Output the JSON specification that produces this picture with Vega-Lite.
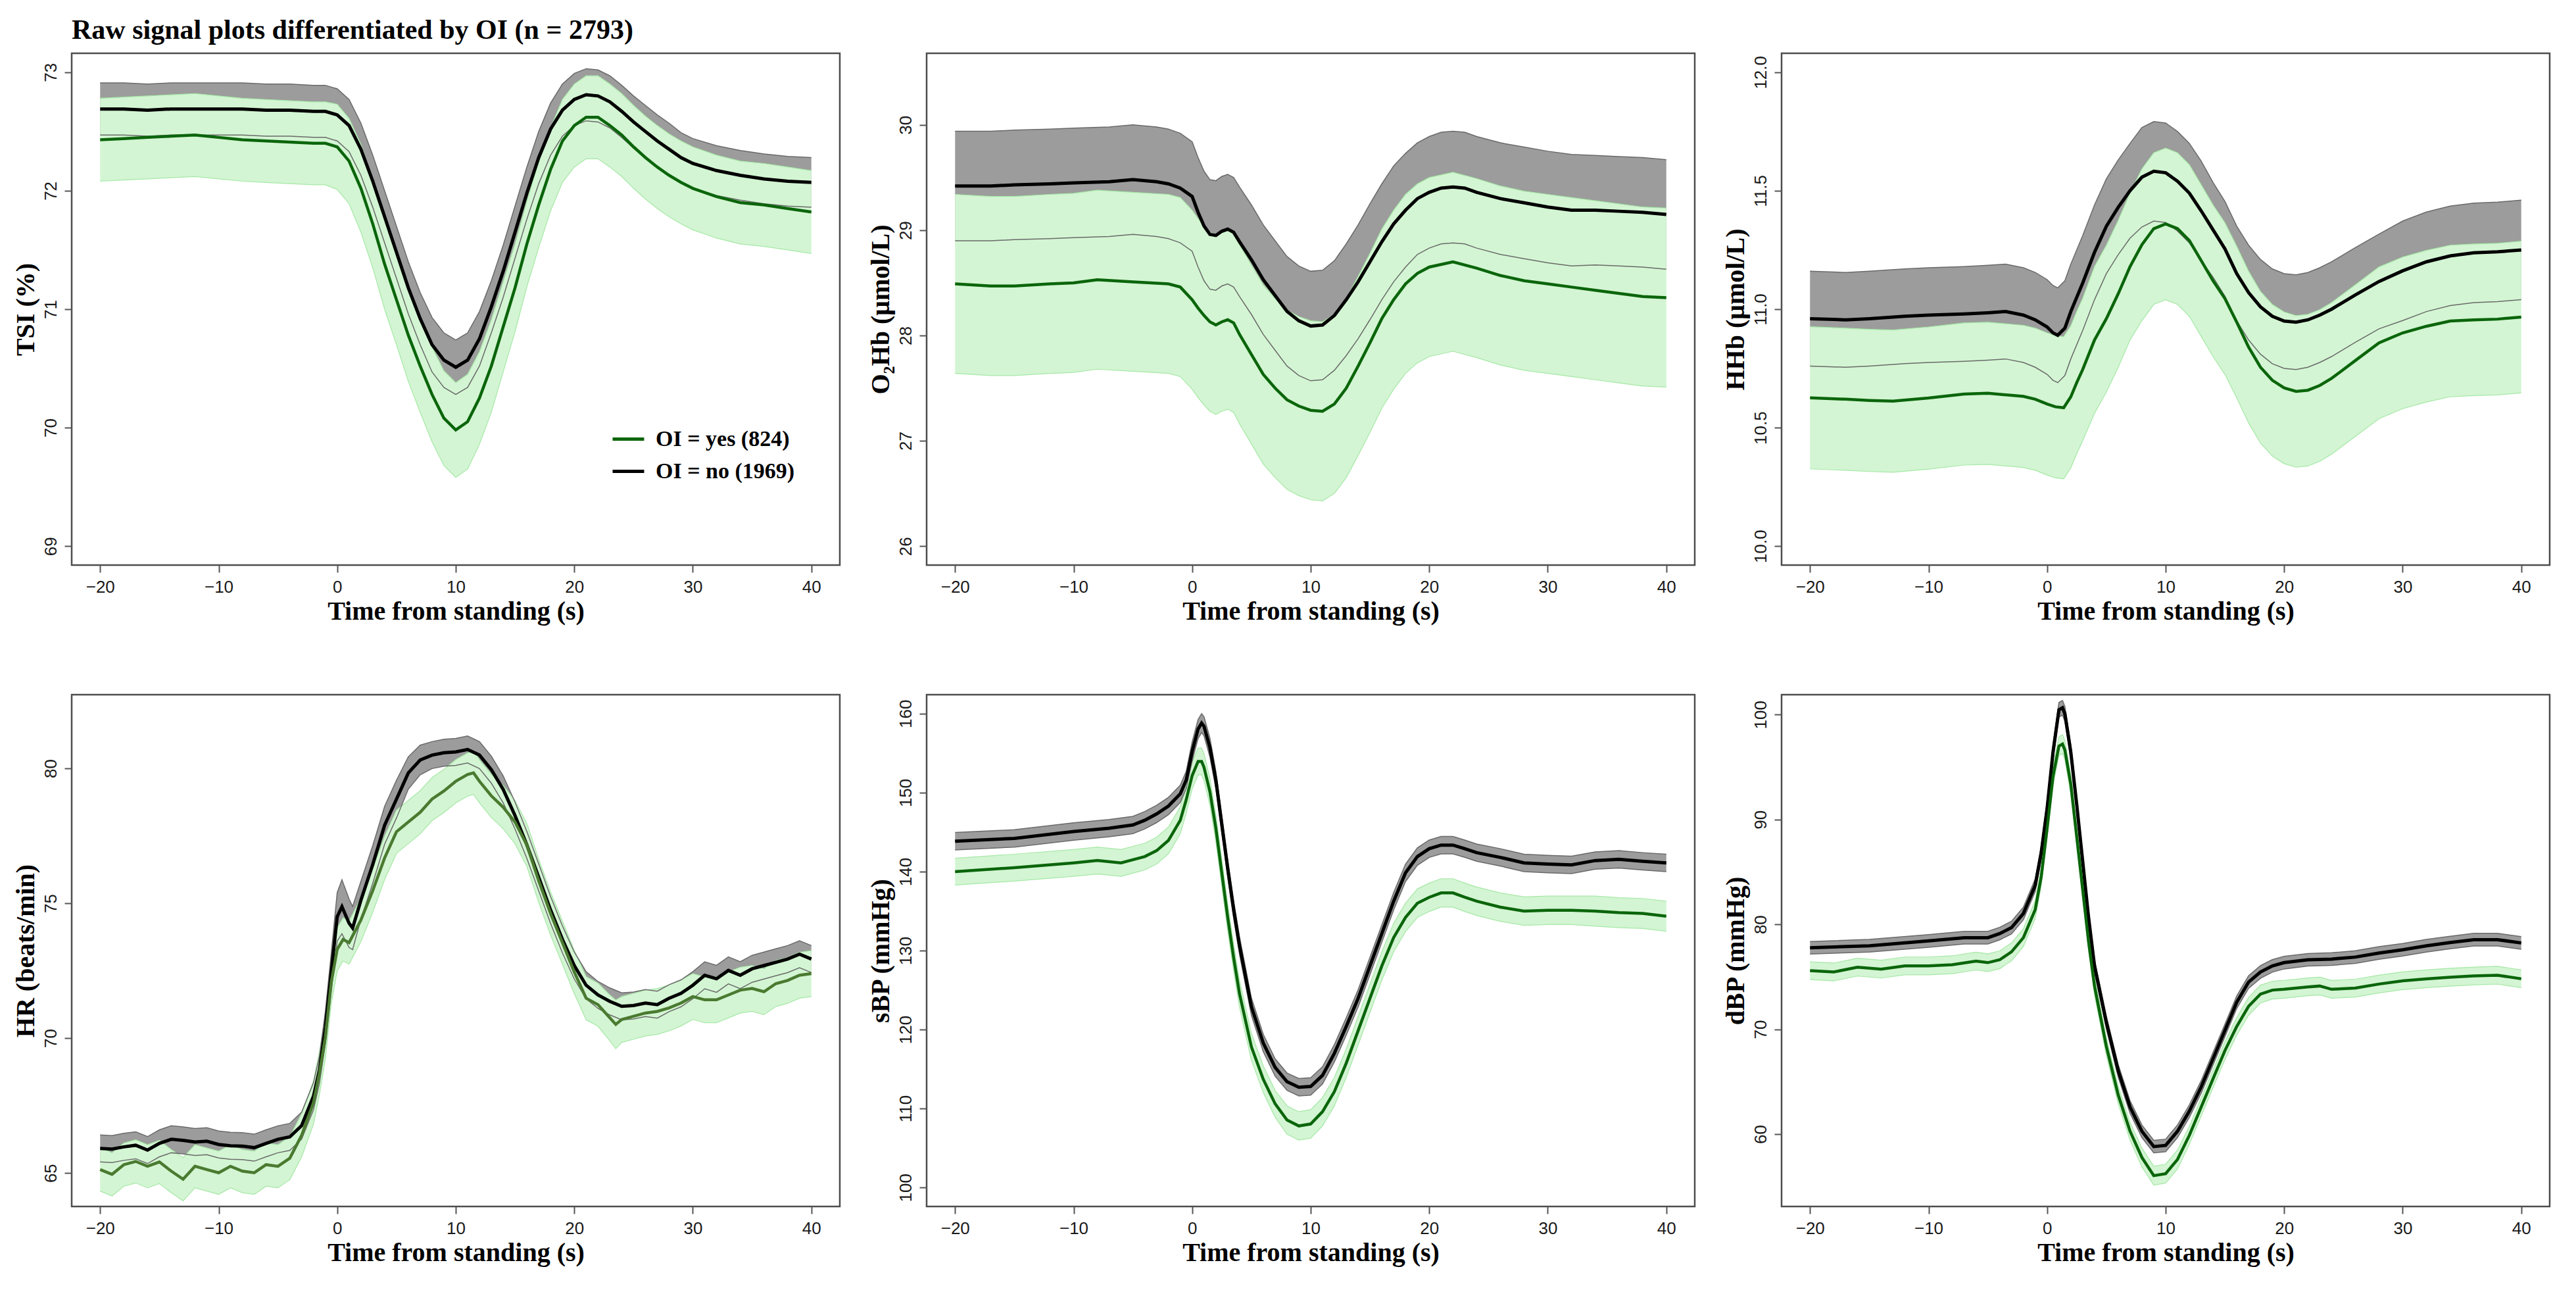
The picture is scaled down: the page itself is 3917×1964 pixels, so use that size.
{
  "$schema": "https://vega.github.io/schema/vega-lite/v6.json",
  "padding": {"left": 17, "top": 24, "right": 20, "bottom": 10},
  "title": {
    "text": "Raw signal plots differentiated by OI (n = 2793)",
    "anchor": "start",
    "frame": "group",
    "font": "Liberation Serif",
    "fontSize": 42,
    "fontWeight": "bold",
    "color": "#000000",
    "offset": 12
  },
  "datasets": {
    "tsi_no": [
      {"t": -20, "m": 72.69, "e": 0.22}, {"t": -18, "m": 72.69, "e": 0.22}, {"t": -16, "m": 72.68, "e": 0.22},
      {"t": -14, "m": 72.69, "e": 0.22}, {"t": -12, "m": 72.69, "e": 0.22}, {"t": -10, "m": 72.69, "e": 0.22},
      {"t": -8, "m": 72.69, "e": 0.22}, {"t": -6, "m": 72.68, "e": 0.22}, {"t": -4, "m": 72.68, "e": 0.22},
      {"t": -2, "m": 72.67, "e": 0.22}, {"t": -1, "m": 72.67, "e": 0.22}, {"t": 0, "m": 72.64, "e": 0.22},
      {"t": 1, "m": 72.55, "e": 0.22}, {"t": 2, "m": 72.35, "e": 0.22}, {"t": 3, "m": 72.08, "e": 0.22},
      {"t": 4, "m": 71.78, "e": 0.22}, {"t": 5, "m": 71.48, "e": 0.22}, {"t": 6, "m": 71.18, "e": 0.22},
      {"t": 7, "m": 70.92, "e": 0.22}, {"t": 8, "m": 70.7, "e": 0.23}, {"t": 9, "m": 70.57, "e": 0.23},
      {"t": 10, "m": 70.51, "e": 0.23}, {"t": 11, "m": 70.57, "e": 0.23}, {"t": 12, "m": 70.75, "e": 0.23},
      {"t": 13, "m": 71.02, "e": 0.22}, {"t": 14, "m": 71.32, "e": 0.22}, {"t": 15, "m": 71.65, "e": 0.22},
      {"t": 16, "m": 71.98, "e": 0.22}, {"t": 17, "m": 72.28, "e": 0.22}, {"t": 18, "m": 72.52, "e": 0.22},
      {"t": 19, "m": 72.68, "e": 0.22}, {"t": 20, "m": 72.77, "e": 0.22}, {"t": 21, "m": 72.81, "e": 0.22},
      {"t": 22, "m": 72.8, "e": 0.22}, {"t": 23, "m": 72.75, "e": 0.22}, {"t": 24, "m": 72.67, "e": 0.22},
      {"t": 25, "m": 72.58, "e": 0.22}, {"t": 26, "m": 72.5, "e": 0.22}, {"t": 27, "m": 72.42, "e": 0.22},
      {"t": 28, "m": 72.35, "e": 0.22}, {"t": 29, "m": 72.28, "e": 0.21}, {"t": 30, "m": 72.23, "e": 0.21},
      {"t": 32, "m": 72.17, "e": 0.21}, {"t": 34, "m": 72.13, "e": 0.21}, {"t": 36, "m": 72.1, "e": 0.21},
      {"t": 38, "m": 72.08, "e": 0.21}, {"t": 40, "m": 72.07, "e": 0.21}
    ],
    "tsi_yes": [
      {"t": -20, "m": 72.43, "e": 0.35}, {"t": -18, "m": 72.44, "e": 0.35}, {"t": -16, "m": 72.45, "e": 0.35},
      {"t": -14, "m": 72.46, "e": 0.35}, {"t": -12, "m": 72.47, "e": 0.35}, {"t": -10, "m": 72.45, "e": 0.35},
      {"t": -8, "m": 72.43, "e": 0.35}, {"t": -6, "m": 72.42, "e": 0.35}, {"t": -4, "m": 72.41, "e": 0.35},
      {"t": -2, "m": 72.4, "e": 0.35}, {"t": -1, "m": 72.4, "e": 0.35}, {"t": 0, "m": 72.37, "e": 0.36},
      {"t": 1, "m": 72.25, "e": 0.36}, {"t": 2, "m": 72.02, "e": 0.37}, {"t": 3, "m": 71.72, "e": 0.37},
      {"t": 4, "m": 71.38, "e": 0.38}, {"t": 5, "m": 71.08, "e": 0.38}, {"t": 6, "m": 70.78, "e": 0.39},
      {"t": 7, "m": 70.52, "e": 0.39}, {"t": 8, "m": 70.28, "e": 0.4}, {"t": 9, "m": 70.08, "e": 0.4},
      {"t": 10, "m": 69.98, "e": 0.4}, {"t": 11, "m": 70.05, "e": 0.4}, {"t": 12, "m": 70.25, "e": 0.39},
      {"t": 13, "m": 70.52, "e": 0.39}, {"t": 14, "m": 70.85, "e": 0.38}, {"t": 15, "m": 71.18, "e": 0.37},
      {"t": 16, "m": 71.55, "e": 0.36}, {"t": 17, "m": 71.88, "e": 0.36}, {"t": 18, "m": 72.18, "e": 0.35},
      {"t": 19, "m": 72.42, "e": 0.35}, {"t": 20, "m": 72.55, "e": 0.35}, {"t": 21, "m": 72.62, "e": 0.35},
      {"t": 22, "m": 72.62, "e": 0.35}, {"t": 23, "m": 72.55, "e": 0.35}, {"t": 24, "m": 72.47, "e": 0.35},
      {"t": 25, "m": 72.37, "e": 0.35}, {"t": 26, "m": 72.28, "e": 0.35}, {"t": 27, "m": 72.2, "e": 0.35},
      {"t": 28, "m": 72.13, "e": 0.35}, {"t": 29, "m": 72.07, "e": 0.35}, {"t": 30, "m": 72.02, "e": 0.35},
      {"t": 32, "m": 71.95, "e": 0.35}, {"t": 34, "m": 71.9, "e": 0.35}, {"t": 36, "m": 71.88, "e": 0.35},
      {"t": 38, "m": 71.85, "e": 0.35}, {"t": 40, "m": 71.82, "e": 0.35}
    ],
    "o2_no": [
      {"t": -20, "m": 29.42, "e": 0.52}, {"t": -17, "m": 29.42, "e": 0.52}, {"t": -15, "m": 29.43, "e": 0.52},
      {"t": -12, "m": 29.44, "e": 0.52}, {"t": -10, "m": 29.45, "e": 0.52}, {"t": -7, "m": 29.46, "e": 0.52},
      {"t": -5, "m": 29.48, "e": 0.52}, {"t": -3, "m": 29.46, "e": 0.52}, {"t": -2, "m": 29.44, "e": 0.52},
      {"t": -1, "m": 29.4, "e": 0.52}, {"t": 0, "m": 29.32, "e": 0.52}, {"t": 0.5, "m": 29.17, "e": 0.52},
      {"t": 1, "m": 29.04, "e": 0.52}, {"t": 1.5, "m": 28.96, "e": 0.52}, {"t": 2, "m": 28.95, "e": 0.52},
      {"t": 2.5, "m": 28.99, "e": 0.52}, {"t": 3, "m": 29.01, "e": 0.52}, {"t": 3.5, "m": 28.98, "e": 0.52},
      {"t": 4, "m": 28.89, "e": 0.52}, {"t": 5, "m": 28.72, "e": 0.52}, {"t": 6, "m": 28.53, "e": 0.52},
      {"t": 7, "m": 28.38, "e": 0.52}, {"t": 8, "m": 28.23, "e": 0.52}, {"t": 9, "m": 28.14, "e": 0.52},
      {"t": 10, "m": 28.09, "e": 0.52}, {"t": 11, "m": 28.1, "e": 0.52}, {"t": 12, "m": 28.19, "e": 0.52},
      {"t": 13, "m": 28.34, "e": 0.53}, {"t": 14, "m": 28.51, "e": 0.54}, {"t": 15, "m": 28.7, "e": 0.55},
      {"t": 16, "m": 28.89, "e": 0.55}, {"t": 17, "m": 29.06, "e": 0.55}, {"t": 18, "m": 29.19, "e": 0.54},
      {"t": 19, "m": 29.3, "e": 0.53}, {"t": 20, "m": 29.36, "e": 0.53}, {"t": 21, "m": 29.4, "e": 0.53},
      {"t": 22, "m": 29.41, "e": 0.53}, {"t": 23, "m": 29.4, "e": 0.53}, {"t": 24, "m": 29.36, "e": 0.53},
      {"t": 26, "m": 29.3, "e": 0.53}, {"t": 28, "m": 29.26, "e": 0.53}, {"t": 30, "m": 29.22, "e": 0.53},
      {"t": 32, "m": 29.19, "e": 0.53}, {"t": 34, "m": 29.19, "e": 0.52}, {"t": 36, "m": 29.18, "e": 0.52},
      {"t": 38, "m": 29.17, "e": 0.52}, {"t": 40, "m": 29.15, "e": 0.52}
    ],
    "o2_yes": [
      {"t": -20, "m": 28.49, "e": 0.85}, {"t": -17, "m": 28.47, "e": 0.85}, {"t": -15, "m": 28.47, "e": 0.85},
      {"t": -12, "m": 28.49, "e": 0.85}, {"t": -10, "m": 28.5, "e": 0.85}, {"t": -8, "m": 28.53, "e": 0.85},
      {"t": -5, "m": 28.51, "e": 0.85}, {"t": -2, "m": 28.49, "e": 0.85}, {"t": -1, "m": 28.46, "e": 0.85},
      {"t": 0, "m": 28.34, "e": 0.85}, {"t": 0.5, "m": 28.26, "e": 0.85}, {"t": 1, "m": 28.19, "e": 0.85},
      {"t": 1.5, "m": 28.13, "e": 0.85}, {"t": 2, "m": 28.1, "e": 0.85}, {"t": 2.5, "m": 28.13, "e": 0.85},
      {"t": 3, "m": 28.15, "e": 0.85}, {"t": 3.5, "m": 28.12, "e": 0.85}, {"t": 4, "m": 28.01, "e": 0.85},
      {"t": 5, "m": 27.82, "e": 0.85}, {"t": 6, "m": 27.63, "e": 0.85}, {"t": 7, "m": 27.5, "e": 0.85},
      {"t": 8, "m": 27.39, "e": 0.85}, {"t": 9, "m": 27.33, "e": 0.85}, {"t": 10, "m": 27.29, "e": 0.85},
      {"t": 11, "m": 27.28, "e": 0.85}, {"t": 12, "m": 27.35, "e": 0.85}, {"t": 13, "m": 27.5, "e": 0.85},
      {"t": 14, "m": 27.71, "e": 0.85}, {"t": 15, "m": 27.93, "e": 0.85}, {"t": 16, "m": 28.16, "e": 0.85},
      {"t": 17, "m": 28.34, "e": 0.85}, {"t": 18, "m": 28.49, "e": 0.85}, {"t": 19, "m": 28.59, "e": 0.85},
      {"t": 20, "m": 28.65, "e": 0.85}, {"t": 22, "m": 28.7, "e": 0.85}, {"t": 24, "m": 28.64, "e": 0.85},
      {"t": 26, "m": 28.57, "e": 0.85}, {"t": 28, "m": 28.52, "e": 0.85}, {"t": 30, "m": 28.49, "e": 0.85},
      {"t": 32, "m": 28.46, "e": 0.85}, {"t": 34, "m": 28.43, "e": 0.85}, {"t": 36, "m": 28.4, "e": 0.85},
      {"t": 38, "m": 28.37, "e": 0.85}, {"t": 40, "m": 28.36, "e": 0.85}
    ],
    "hhb_no": [
      {"t": -20, "m": 10.96, "e": 0.2}, {"t": -17, "m": 10.955, "e": 0.2}, {"t": -15, "m": 10.96, "e": 0.2},
      {"t": -12, "m": 10.97, "e": 0.2}, {"t": -10, "m": 10.975, "e": 0.2}, {"t": -7, "m": 10.98, "e": 0.2},
      {"t": -5, "m": 10.985, "e": 0.2}, {"t": -3.5, "m": 10.99, "e": 0.2}, {"t": -2, "m": 10.975, "e": 0.2},
      {"t": -1, "m": 10.955, "e": 0.2}, {"t": 0, "m": 10.925, "e": 0.2}, {"t": 0.5, "m": 10.9, "e": 0.2},
      {"t": 0.9, "m": 10.89, "e": 0.2}, {"t": 1.5, "m": 10.92, "e": 0.2}, {"t": 2, "m": 10.99, "e": 0.2},
      {"t": 3, "m": 11.11, "e": 0.2}, {"t": 4, "m": 11.24, "e": 0.2}, {"t": 5, "m": 11.35, "e": 0.2},
      {"t": 6, "m": 11.43, "e": 0.2}, {"t": 7, "m": 11.5, "e": 0.2}, {"t": 8, "m": 11.557, "e": 0.21},
      {"t": 9, "m": 11.582, "e": 0.21}, {"t": 10, "m": 11.576, "e": 0.21}, {"t": 11, "m": 11.54, "e": 0.21},
      {"t": 12, "m": 11.49, "e": 0.21}, {"t": 13, "m": 11.415, "e": 0.21}, {"t": 14, "m": 11.335, "e": 0.2},
      {"t": 15, "m": 11.255, "e": 0.2}, {"t": 16, "m": 11.15, "e": 0.2}, {"t": 17, "m": 11.07, "e": 0.2},
      {"t": 18, "m": 11.01, "e": 0.2}, {"t": 19, "m": 10.97, "e": 0.2}, {"t": 20, "m": 10.95, "e": 0.2},
      {"t": 21, "m": 10.945, "e": 0.2}, {"t": 22, "m": 10.955, "e": 0.2}, {"t": 23, "m": 10.975, "e": 0.2},
      {"t": 24, "m": 11.0, "e": 0.2}, {"t": 26, "m": 11.06, "e": 0.2}, {"t": 28, "m": 11.117, "e": 0.2},
      {"t": 30, "m": 11.162, "e": 0.21}, {"t": 32, "m": 11.2, "e": 0.21}, {"t": 34, "m": 11.225, "e": 0.21},
      {"t": 36, "m": 11.238, "e": 0.21}, {"t": 38, "m": 11.242, "e": 0.21}, {"t": 40, "m": 11.25, "e": 0.21}
    ],
    "hhb_yes": [
      {"t": -20, "m": 10.626, "e": 0.3}, {"t": -17, "m": 10.62, "e": 0.3}, {"t": -15, "m": 10.615, "e": 0.3},
      {"t": -13, "m": 10.612, "e": 0.3}, {"t": -10, "m": 10.625, "e": 0.3}, {"t": -7, "m": 10.642, "e": 0.3},
      {"t": -5, "m": 10.645, "e": 0.3}, {"t": -2, "m": 10.632, "e": 0.3}, {"t": -1, "m": 10.62, "e": 0.3},
      {"t": 0, "m": 10.6, "e": 0.3}, {"t": 0.7, "m": 10.588, "e": 0.3}, {"t": 1.4, "m": 10.584, "e": 0.3},
      {"t": 2, "m": 10.63, "e": 0.3}, {"t": 2.5, "m": 10.69, "e": 0.3}, {"t": 3, "m": 10.745, "e": 0.3},
      {"t": 4, "m": 10.87, "e": 0.31}, {"t": 5, "m": 10.96, "e": 0.31}, {"t": 6, "m": 11.065, "e": 0.31},
      {"t": 7, "m": 11.18, "e": 0.31}, {"t": 8, "m": 11.272, "e": 0.32}, {"t": 9, "m": 11.34, "e": 0.32},
      {"t": 10, "m": 11.36, "e": 0.32}, {"t": 11, "m": 11.34, "e": 0.32}, {"t": 12, "m": 11.29, "e": 0.32},
      {"t": 13, "m": 11.205, "e": 0.32}, {"t": 14, "m": 11.12, "e": 0.32}, {"t": 15, "m": 11.045, "e": 0.32},
      {"t": 16, "m": 10.945, "e": 0.32}, {"t": 17, "m": 10.84, "e": 0.32}, {"t": 18, "m": 10.755, "e": 0.32},
      {"t": 19, "m": 10.7, "e": 0.32}, {"t": 20, "m": 10.668, "e": 0.32}, {"t": 21, "m": 10.653, "e": 0.32},
      {"t": 22, "m": 10.658, "e": 0.32}, {"t": 23, "m": 10.678, "e": 0.32}, {"t": 24, "m": 10.708, "e": 0.32},
      {"t": 26, "m": 10.783, "e": 0.32}, {"t": 28, "m": 10.858, "e": 0.32}, {"t": 30, "m": 10.9, "e": 0.32},
      {"t": 32, "m": 10.928, "e": 0.32}, {"t": 34, "m": 10.95, "e": 0.32}, {"t": 36, "m": 10.955, "e": 0.32},
      {"t": 38, "m": 10.958, "e": 0.32}, {"t": 40, "m": 10.967, "e": 0.32}
    ],
    "hr_no": [
      {"t": -20, "m": 65.91, "e": 0.5}, {"t": -19, "m": 65.89, "e": 0.5}, {"t": -18, "m": 65.97, "e": 0.5},
      {"t": -17, "m": 66.03, "e": 0.5}, {"t": -16, "m": 65.85, "e": 0.5}, {"t": -15, "m": 66.1, "e": 0.5},
      {"t": -14, "m": 66.25, "e": 0.5}, {"t": -13, "m": 66.21, "e": 0.5}, {"t": -12, "m": 66.15, "e": 0.5},
      {"t": -11, "m": 66.18, "e": 0.5}, {"t": -10, "m": 66.06, "e": 0.5}, {"t": -9, "m": 66.01, "e": 0.5},
      {"t": -8, "m": 66.0, "e": 0.5}, {"t": -7, "m": 65.94, "e": 0.5}, {"t": -6, "m": 66.1, "e": 0.5},
      {"t": -5, "m": 66.25, "e": 0.5}, {"t": -4, "m": 66.34, "e": 0.5}, {"t": -3, "m": 66.76, "e": 0.5},
      {"t": -2, "m": 67.85, "e": 0.5}, {"t": -1.5, "m": 68.82, "e": 0.5}, {"t": -1, "m": 70.39, "e": 0.6},
      {"t": -0.5, "m": 72.45, "e": 0.7}, {"t": 0, "m": 74.5, "e": 0.9}, {"t": 0.4, "m": 74.87, "e": 1.0},
      {"t": 1, "m": 74.26, "e": 0.9}, {"t": 1.3, "m": 74.08, "e": 0.8}, {"t": 2, "m": 75.11, "e": 0.7},
      {"t": 3, "m": 76.44, "e": 0.7}, {"t": 4, "m": 77.89, "e": 0.7}, {"t": 5, "m": 78.86, "e": 0.7},
      {"t": 6, "m": 79.83, "e": 0.6}, {"t": 7, "m": 80.31, "e": 0.55}, {"t": 8, "m": 80.49, "e": 0.5},
      {"t": 9, "m": 80.58, "e": 0.5}, {"t": 10, "m": 80.61, "e": 0.5}, {"t": 11, "m": 80.7, "e": 0.5},
      {"t": 12, "m": 80.49, "e": 0.5}, {"t": 13, "m": 79.95, "e": 0.5}, {"t": 14, "m": 79.22, "e": 0.5},
      {"t": 15, "m": 78.25, "e": 0.5}, {"t": 16, "m": 77.16, "e": 0.5}, {"t": 17, "m": 75.96, "e": 0.5},
      {"t": 18, "m": 74.75, "e": 0.5}, {"t": 19, "m": 73.66, "e": 0.5}, {"t": 20, "m": 72.69, "e": 0.5},
      {"t": 21, "m": 71.96, "e": 0.5}, {"t": 22, "m": 71.6, "e": 0.5}, {"t": 23, "m": 71.36, "e": 0.5},
      {"t": 24, "m": 71.18, "e": 0.5}, {"t": 25, "m": 71.21, "e": 0.5}, {"t": 26, "m": 71.3, "e": 0.5},
      {"t": 27, "m": 71.24, "e": 0.5}, {"t": 28, "m": 71.48, "e": 0.5}, {"t": 29, "m": 71.66, "e": 0.5},
      {"t": 30, "m": 71.96, "e": 0.5}, {"t": 31, "m": 72.33, "e": 0.5}, {"t": 32, "m": 72.2, "e": 0.5},
      {"t": 33, "m": 72.51, "e": 0.5}, {"t": 34, "m": 72.33, "e": 0.5}, {"t": 35, "m": 72.57, "e": 0.5},
      {"t": 36, "m": 72.69, "e": 0.5}, {"t": 37, "m": 72.81, "e": 0.5}, {"t": 38, "m": 72.93, "e": 0.5},
      {"t": 39, "m": 73.11, "e": 0.5}, {"t": 40, "m": 72.93, "e": 0.5}
    ],
    "hr_yes": [
      {"t": -20, "m": 65.13, "e": 0.8}, {"t": -19, "m": 64.95, "e": 0.8}, {"t": -18, "m": 65.31, "e": 0.8},
      {"t": -17, "m": 65.43, "e": 0.8}, {"t": -16, "m": 65.25, "e": 0.8}, {"t": -15, "m": 65.41, "e": 0.8},
      {"t": -14, "m": 65.07, "e": 0.8}, {"t": -13, "m": 64.77, "e": 0.8}, {"t": -12, "m": 65.25, "e": 0.8},
      {"t": -11, "m": 65.13, "e": 0.8}, {"t": -10, "m": 65.01, "e": 0.8}, {"t": -9, "m": 65.25, "e": 0.8},
      {"t": -8, "m": 65.07, "e": 0.8}, {"t": -7, "m": 65.01, "e": 0.8}, {"t": -6, "m": 65.31, "e": 0.8},
      {"t": -5, "m": 65.25, "e": 0.8}, {"t": -4, "m": 65.55, "e": 0.8}, {"t": -3, "m": 66.4, "e": 0.8},
      {"t": -2, "m": 67.61, "e": 0.8}, {"t": -1.5, "m": 68.7, "e": 0.8}, {"t": -1, "m": 70.03, "e": 0.8},
      {"t": -0.5, "m": 72.08, "e": 0.8}, {"t": 0, "m": 73.29, "e": 0.8}, {"t": 0.5, "m": 73.66, "e": 0.8},
      {"t": 1, "m": 73.54, "e": 0.8}, {"t": 2, "m": 74.38, "e": 0.8}, {"t": 3, "m": 75.47, "e": 0.8},
      {"t": 4, "m": 76.68, "e": 0.8}, {"t": 5, "m": 77.65, "e": 0.8}, {"t": 6, "m": 78.01, "e": 0.8},
      {"t": 7, "m": 78.37, "e": 0.8}, {"t": 8, "m": 78.86, "e": 0.8}, {"t": 9, "m": 79.16, "e": 0.8},
      {"t": 10, "m": 79.52, "e": 0.8}, {"t": 11, "m": 79.77, "e": 0.8}, {"t": 11.5, "m": 79.83, "e": 0.8},
      {"t": 12, "m": 79.52, "e": 0.8}, {"t": 13, "m": 78.98, "e": 0.8}, {"t": 14, "m": 78.56, "e": 0.8},
      {"t": 15, "m": 78.01, "e": 0.8}, {"t": 16, "m": 77.16, "e": 0.8}, {"t": 17, "m": 75.83, "e": 0.8},
      {"t": 18, "m": 74.62, "e": 0.8}, {"t": 19, "m": 73.54, "e": 0.8}, {"t": 20, "m": 72.45, "e": 0.8},
      {"t": 21, "m": 71.48, "e": 0.8}, {"t": 22, "m": 71.24, "e": 0.8}, {"t": 23, "m": 70.75, "e": 0.85},
      {"t": 23.5, "m": 70.51, "e": 0.9}, {"t": 24, "m": 70.69, "e": 0.85}, {"t": 25, "m": 70.81, "e": 0.85},
      {"t": 26, "m": 70.93, "e": 0.85}, {"t": 27, "m": 70.99, "e": 0.85}, {"t": 28, "m": 71.12, "e": 0.85},
      {"t": 29, "m": 71.3, "e": 0.85}, {"t": 30, "m": 71.54, "e": 0.85}, {"t": 31, "m": 71.42, "e": 0.85},
      {"t": 32, "m": 71.42, "e": 0.85}, {"t": 33, "m": 71.6, "e": 0.85}, {"t": 34, "m": 71.78, "e": 0.85},
      {"t": 35, "m": 71.84, "e": 0.85}, {"t": 36, "m": 71.72, "e": 0.85}, {"t": 37, "m": 72.02, "e": 0.85},
      {"t": 38, "m": 72.14, "e": 0.85}, {"t": 39, "m": 72.33, "e": 0.85}, {"t": 40, "m": 72.39, "e": 0.85}
    ],
    "sbp_no": [
      {"t": -20, "m": 143.85, "e": 1.1}, {"t": -15, "m": 144.2, "e": 1.1}, {"t": -10, "m": 145.08, "e": 1.1},
      {"t": -7, "m": 145.5, "e": 1.1}, {"t": -5, "m": 145.9, "e": 1.1}, {"t": -4, "m": 146.5, "e": 1.1},
      {"t": -3, "m": 147.3, "e": 1.1}, {"t": -2, "m": 148.3, "e": 1.1}, {"t": -1, "m": 149.85, "e": 1.1},
      {"t": -0.5, "m": 151.6, "e": 1.1}, {"t": 0, "m": 155.2, "e": 1.2}, {"t": 0.5, "m": 158.05, "e": 1.2},
      {"t": 0.8, "m": 158.8, "e": 1.2}, {"t": 1, "m": 158.4, "e": 1.2}, {"t": 1.5, "m": 155.7, "e": 1.2},
      {"t": 2, "m": 151.6, "e": 1.1}, {"t": 2.5, "m": 146.0, "e": 1.1}, {"t": 3, "m": 140.4, "e": 1.1},
      {"t": 3.5, "m": 135.2, "e": 1.1}, {"t": 4, "m": 130.6, "e": 1.1}, {"t": 5, "m": 122.9, "e": 1.1},
      {"t": 6, "m": 118.3, "e": 1.1}, {"t": 7, "m": 115.2, "e": 1.1}, {"t": 8, "m": 113.4, "e": 1.1},
      {"t": 9, "m": 112.7, "e": 1.1}, {"t": 10, "m": 112.8, "e": 1.1}, {"t": 11, "m": 114.2, "e": 1.1},
      {"t": 12, "m": 117.0, "e": 1.1}, {"t": 13, "m": 120.4, "e": 1.1}, {"t": 14, "m": 123.95, "e": 1.1},
      {"t": 15, "m": 128.05, "e": 1.1}, {"t": 16, "m": 132.15, "e": 1.1}, {"t": 17, "m": 136.25, "e": 1.1},
      {"t": 18, "m": 139.85, "e": 1.1}, {"t": 19, "m": 141.9, "e": 1.1}, {"t": 20, "m": 142.9, "e": 1.1},
      {"t": 21, "m": 143.35, "e": 1.1}, {"t": 22, "m": 143.35, "e": 1.1}, {"t": 23, "m": 142.9, "e": 1.1},
      {"t": 24, "m": 142.4, "e": 1.1}, {"t": 26, "m": 141.8, "e": 1.1}, {"t": 28, "m": 141.1, "e": 1.1},
      {"t": 30, "m": 140.95, "e": 1.1}, {"t": 32, "m": 140.85, "e": 1.1}, {"t": 34, "m": 141.4, "e": 1.1},
      {"t": 36, "m": 141.55, "e": 1.1}, {"t": 38, "m": 141.3, "e": 1.1}, {"t": 40, "m": 141.1, "e": 1.1}
    ],
    "sbp_yes": [
      {"t": -20, "m": 140.0, "e": 1.7}, {"t": -15, "m": 140.5, "e": 1.7}, {"t": -10, "m": 141.1, "e": 1.7},
      {"t": -8, "m": 141.4, "e": 1.7}, {"t": -6, "m": 141.1, "e": 1.7}, {"t": -5, "m": 141.5, "e": 1.7},
      {"t": -4, "m": 141.9, "e": 1.7}, {"t": -3, "m": 142.65, "e": 1.7}, {"t": -2, "m": 143.95, "e": 1.7},
      {"t": -1, "m": 146.5, "e": 1.7}, {"t": -0.5, "m": 149.1, "e": 1.7}, {"t": 0, "m": 152.15, "e": 1.7},
      {"t": 0.5, "m": 153.95, "e": 1.7}, {"t": 0.8, "m": 153.95, "e": 1.7}, {"t": 1, "m": 153.2, "e": 1.7},
      {"t": 1.5, "m": 150.1, "e": 1.7}, {"t": 2, "m": 145.5, "e": 1.7}, {"t": 2.5, "m": 139.85, "e": 1.7},
      {"t": 3, "m": 134.2, "e": 1.7}, {"t": 3.5, "m": 129.1, "e": 1.7}, {"t": 4, "m": 124.5, "e": 1.7},
      {"t": 5, "m": 117.8, "e": 1.7}, {"t": 6, "m": 113.7, "e": 1.7}, {"t": 7, "m": 110.6, "e": 1.7},
      {"t": 8, "m": 108.55, "e": 1.8}, {"t": 9, "m": 107.8, "e": 1.8}, {"t": 10, "m": 108.05, "e": 1.8},
      {"t": 11, "m": 109.6, "e": 1.8}, {"t": 12, "m": 112.15, "e": 1.8}, {"t": 13, "m": 115.75, "e": 1.8},
      {"t": 14, "m": 119.85, "e": 1.8}, {"t": 15, "m": 123.95, "e": 1.8}, {"t": 16, "m": 128.05, "e": 1.8},
      {"t": 17, "m": 131.65, "e": 1.8}, {"t": 18, "m": 134.2, "e": 1.8}, {"t": 19, "m": 136.0, "e": 1.8},
      {"t": 20, "m": 136.75, "e": 1.8}, {"t": 21, "m": 137.3, "e": 1.8}, {"t": 22, "m": 137.3, "e": 1.8},
      {"t": 23, "m": 136.75, "e": 1.8}, {"t": 24, "m": 136.25, "e": 1.8}, {"t": 26, "m": 135.5, "e": 1.8},
      {"t": 28, "m": 135.0, "e": 1.8}, {"t": 30, "m": 135.1, "e": 1.8}, {"t": 32, "m": 135.1, "e": 1.8},
      {"t": 34, "m": 135.0, "e": 1.9}, {"t": 36, "m": 134.8, "e": 1.9}, {"t": 38, "m": 134.7, "e": 1.9},
      {"t": 40, "m": 134.35, "e": 1.9}
    ],
    "dbp_no": [
      {"t": -20, "m": 77.77, "e": 0.6}, {"t": -15, "m": 77.96, "e": 0.6}, {"t": -10, "m": 78.42, "e": 0.6},
      {"t": -7, "m": 78.73, "e": 0.6}, {"t": -5, "m": 78.73, "e": 0.6}, {"t": -4, "m": 79.12, "e": 0.6},
      {"t": -3, "m": 79.69, "e": 0.6}, {"t": -2, "m": 81.04, "e": 0.6}, {"t": -1, "m": 83.73, "e": 0.6},
      {"t": -0.5, "m": 86.8, "e": 0.6}, {"t": 0, "m": 91.04, "e": 0.7}, {"t": 0.5, "m": 96.42, "e": 0.7},
      {"t": 1, "m": 100.46, "e": 0.7}, {"t": 1.3, "m": 100.65, "e": 0.7}, {"t": 1.5, "m": 100.08, "e": 0.7},
      {"t": 2, "m": 96.42, "e": 0.7}, {"t": 2.5, "m": 91.42, "e": 0.6}, {"t": 3, "m": 86.04, "e": 0.6},
      {"t": 3.5, "m": 80.65, "e": 0.6}, {"t": 4, "m": 76.04, "e": 0.6}, {"t": 5, "m": 70.65, "e": 0.6},
      {"t": 6, "m": 66.04, "e": 0.6}, {"t": 7, "m": 62.58, "e": 0.6}, {"t": 8, "m": 60.27, "e": 0.6},
      {"t": 9, "m": 58.81, "e": 0.6}, {"t": 10, "m": 58.92, "e": 0.6}, {"t": 11, "m": 60.27, "e": 0.6},
      {"t": 12, "m": 62.19, "e": 0.6}, {"t": 13, "m": 64.5, "e": 0.6}, {"t": 14, "m": 67.19, "e": 0.6},
      {"t": 15, "m": 69.88, "e": 0.6}, {"t": 16, "m": 72.58, "e": 0.6}, {"t": 17, "m": 74.5, "e": 0.6},
      {"t": 18, "m": 75.46, "e": 0.6}, {"t": 19, "m": 76.04, "e": 0.6}, {"t": 20, "m": 76.35, "e": 0.6},
      {"t": 22, "m": 76.62, "e": 0.6}, {"t": 24, "m": 76.69, "e": 0.6}, {"t": 26, "m": 76.88, "e": 0.6},
      {"t": 28, "m": 77.27, "e": 0.6}, {"t": 30, "m": 77.58, "e": 0.6}, {"t": 32, "m": 77.96, "e": 0.6},
      {"t": 34, "m": 78.27, "e": 0.6}, {"t": 36, "m": 78.54, "e": 0.6}, {"t": 38, "m": 78.54, "e": 0.6},
      {"t": 40, "m": 78.23, "e": 0.6}
    ],
    "dbp_yes": [
      {"t": -20, "m": 75.58, "e": 0.85}, {"t": -18, "m": 75.46, "e": 0.85}, {"t": -16, "m": 75.92, "e": 0.85},
      {"t": -14, "m": 75.73, "e": 0.85}, {"t": -12, "m": 76.04, "e": 0.85}, {"t": -10, "m": 76.04, "e": 0.85},
      {"t": -8, "m": 76.15, "e": 0.85}, {"t": -6, "m": 76.5, "e": 0.85}, {"t": -5, "m": 76.35, "e": 0.85},
      {"t": -4, "m": 76.62, "e": 0.85}, {"t": -3, "m": 77.38, "e": 0.85}, {"t": -2, "m": 78.73, "e": 0.85},
      {"t": -1, "m": 81.42, "e": 0.85}, {"t": -0.5, "m": 84.5, "e": 0.85}, {"t": 0, "m": 89.12, "e": 0.9},
      {"t": 0.5, "m": 94.12, "e": 0.9}, {"t": 1, "m": 97.0, "e": 0.9}, {"t": 1.3, "m": 97.19, "e": 0.9},
      {"t": 1.5, "m": 96.62, "e": 0.9}, {"t": 2, "m": 93.35, "e": 0.9}, {"t": 2.5, "m": 88.35, "e": 0.85},
      {"t": 3, "m": 83.35, "e": 0.85}, {"t": 3.5, "m": 78.35, "e": 0.85}, {"t": 4, "m": 74.12, "e": 0.85},
      {"t": 5, "m": 68.35, "e": 0.85}, {"t": 6, "m": 63.73, "e": 0.85}, {"t": 7, "m": 60.27, "e": 0.85},
      {"t": 8, "m": 57.77, "e": 0.9}, {"t": 9, "m": 56.04, "e": 0.9}, {"t": 10, "m": 56.23, "e": 0.9},
      {"t": 11, "m": 57.58, "e": 0.9}, {"t": 12, "m": 59.88, "e": 0.85}, {"t": 13, "m": 62.58, "e": 0.85},
      {"t": 14, "m": 65.27, "e": 0.85}, {"t": 15, "m": 67.96, "e": 0.85}, {"t": 16, "m": 70.27, "e": 0.85},
      {"t": 17, "m": 72.19, "e": 0.85}, {"t": 18, "m": 73.35, "e": 0.85}, {"t": 19, "m": 73.73, "e": 0.85},
      {"t": 20, "m": 73.81, "e": 0.85}, {"t": 22, "m": 74.04, "e": 0.85}, {"t": 23, "m": 74.12, "e": 0.85},
      {"t": 24, "m": 73.81, "e": 0.85}, {"t": 26, "m": 73.92, "e": 0.85}, {"t": 28, "m": 74.31, "e": 0.85},
      {"t": 30, "m": 74.62, "e": 0.85}, {"t": 32, "m": 74.81, "e": 0.85}, {"t": 34, "m": 74.96, "e": 0.85},
      {"t": 36, "m": 75.08, "e": 0.85}, {"t": 38, "m": 75.15, "e": 0.85}, {"t": 40, "m": 74.81, "e": 0.85}
    ]
  },
  "columns": 3,
  "spacing": {"row": 197, "column": 132},
  "bounds": "flush",
  "resolve": {"scale": {"color": "independent"}, "legend": {"color": "independent"}},
  "concat": [
    {
      "width": 1168,
      "height": 778,
      "encoding": {
        "x": {"field": "t", "type": "quantitative", "scale": {"domain": [-22.4, 42.4], "nice": false, "zero": false}, "axis": {"values": [-20, -10, 0, 10, 20, 30, 40], "title": "Time from standing (s)"}},
        "y": {"field": "m", "type": "quantitative", "scale": {"domain": [68.84, 73.16], "nice": false, "zero": false}, "axis": {"values": [69, 70, 71, 72, 73], "title": "TSI (%)"}}
      },
      "layer": [
        {"data": {"name": "tsi_no"}, "mark": {"type": "errorband", "color": "#9c9c9c", "opacity": 1}, "encoding": {"yError": {"field": "e"}}},
        {"data": {"name": "tsi_yes"}, "mark": {"type": "errorband", "color": "#d3f5d3", "opacity": 1, "borders": {"color": "#a6e8a6", "strokeWidth": 1.2}}, "encoding": {"yError": {"field": "e"}}},
        {"data": {"name": "tsi_no"}, "mark": {"type": "errorband", "band": false, "opacity": 1, "borders": {"color": "#6a6a6a", "strokeWidth": 1.5}}, "encoding": {"yError": {"field": "e"}}},
        {"data": {"name": "tsi_no"}, "mark": {"type": "line", "strokeWidth": 5},
         "encoding": {"color": {"datum": "OI = no (1969)", "scale": {"domain": ["OI = yes (824)", "OI = no (1969)"], "range": ["#0b650b", "#000000"]},
           "legend": {"orient": "none", "legendX": 820, "legendY": 560, "title": null, "symbolType": "stroke", "symbolSize": 2300, "symbolStrokeWidth": 5, "labelFont": "Liberation Serif", "labelFontSize": 34, "labelFontWeight": "bold", "labelColor": "#000000", "labelOffset": 15, "labelLimit": 0, "padding": 0, "rowPadding": 5}}}},
        {"data": {"name": "tsi_yes"}, "mark": {"type": "line", "strokeWidth": 4.5}, "encoding": {"color": {"datum": "OI = yes (824)"}}}
      ]
    },
    {
      "width": 1168,
      "height": 778,
      "encoding": {
        "x": {"field": "t", "type": "quantitative", "scale": {"domain": [-22.4, 42.4], "nice": false, "zero": false}, "axis": {"values": [-20, -10, 0, 10, 20, 30, 40], "title": "Time from standing (s)"}},
        "y": {"field": "m", "type": "quantitative", "scale": {"domain": [25.82, 30.68], "nice": false, "zero": false}, "axis": {"values": [26, 27, 28, 29, 30], "title": "O₂Hb (μmol/L)"}}
      },
      "layer": [
        {"data": {"name": "o2_no"}, "mark": {"type": "errorband", "color": "#9c9c9c", "opacity": 1}, "encoding": {"yError": {"field": "e"}}},
        {"data": {"name": "o2_yes"}, "mark": {"type": "errorband", "color": "#d3f5d3", "opacity": 1, "borders": {"color": "#a6e8a6", "strokeWidth": 1.2}}, "encoding": {"yError": {"field": "e"}}},
        {"data": {"name": "o2_no"}, "mark": {"type": "errorband", "band": false, "opacity": 1, "borders": {"color": "#6a6a6a", "strokeWidth": 1.5}}, "encoding": {"yError": {"field": "e"}}},
        {"data": {"name": "o2_no"}, "mark": {"type": "line", "strokeWidth": 5, "color": "#000000"}},
        {"data": {"name": "o2_yes"}, "mark": {"type": "line", "strokeWidth": 4.5, "color": "#0b650b"}}
      ]
    },
    {
      "width": 1168,
      "height": 778,
      "encoding": {
        "x": {"field": "t", "type": "quantitative", "scale": {"domain": [-22.4, 42.4], "nice": false, "zero": false}, "axis": {"values": [-20, -10, 0, 10, 20, 30, 40], "title": "Time from standing (s)"}},
        "y": {"field": "m", "type": "quantitative", "scale": {"domain": [9.92, 12.08], "nice": false, "zero": false}, "axis": {"values": [10, 10.5, 11, 11.5, 12], "format": ".1f", "title": "HHb (μmol/L)"}}
      },
      "layer": [
        {"data": {"name": "hhb_no"}, "mark": {"type": "errorband", "color": "#9c9c9c", "opacity": 1}, "encoding": {"yError": {"field": "e"}}},
        {"data": {"name": "hhb_yes"}, "mark": {"type": "errorband", "color": "#d3f5d3", "opacity": 1, "borders": {"color": "#a6e8a6", "strokeWidth": 1.2}}, "encoding": {"yError": {"field": "e"}}},
        {"data": {"name": "hhb_no"}, "mark": {"type": "errorband", "band": false, "opacity": 1, "borders": {"color": "#6a6a6a", "strokeWidth": 1.5}}, "encoding": {"yError": {"field": "e"}}},
        {"data": {"name": "hhb_no"}, "mark": {"type": "line", "strokeWidth": 5, "color": "#000000"}},
        {"data": {"name": "hhb_yes"}, "mark": {"type": "line", "strokeWidth": 4.5, "color": "#0b650b"}}
      ]
    },
    {
      "width": 1168,
      "height": 778,
      "encoding": {
        "x": {"field": "t", "type": "quantitative", "scale": {"domain": [-22.4, 42.4], "nice": false, "zero": false}, "axis": {"values": [-20, -10, 0, 10, 20, 30, 40], "title": "Time from standing (s)"}},
        "y": {"field": "m", "type": "quantitative", "scale": {"domain": [63.76, 82.73], "nice": false, "zero": false}, "axis": {"values": [65, 70, 75, 80], "title": "HR (beats/min)"}}
      },
      "layer": [
        {"data": {"name": "hr_no"}, "mark": {"type": "errorband", "color": "#9c9c9c", "opacity": 1}, "encoding": {"yError": {"field": "e"}}},
        {"data": {"name": "hr_yes"}, "mark": {"type": "errorband", "color": "#d3f5d3", "opacity": 1, "borders": {"color": "#a6e8a6", "strokeWidth": 1.2}}, "encoding": {"yError": {"field": "e"}}},
        {"data": {"name": "hr_no"}, "mark": {"type": "errorband", "band": false, "opacity": 1, "borders": {"color": "#6a6a6a", "strokeWidth": 1.5}}, "encoding": {"yError": {"field": "e"}}},
        {"data": {"name": "hr_no"}, "mark": {"type": "line", "strokeWidth": 5, "color": "#000000"}},
        {"data": {"name": "hr_yes"}, "mark": {"type": "line", "strokeWidth": 4.5, "color": "#4a7a30"}}
      ]
    },
    {
      "width": 1168,
      "height": 778,
      "encoding": {
        "x": {"field": "t", "type": "quantitative", "scale": {"domain": [-22.4, 42.4], "nice": false, "zero": false}, "axis": {"values": [-20, -10, 0, 10, 20, 30, 40], "title": "Time from standing (s)"}},
        "y": {"field": "m", "type": "quantitative", "scale": {"domain": [97.6, 162.4], "nice": false, "zero": false}, "axis": {"values": [100, 110, 120, 130, 140, 150, 160], "title": "sBP (mmHg)"}}
      },
      "layer": [
        {"data": {"name": "sbp_no"}, "mark": {"type": "errorband", "color": "#9c9c9c", "opacity": 1}, "encoding": {"yError": {"field": "e"}}},
        {"data": {"name": "sbp_yes"}, "mark": {"type": "errorband", "color": "#d3f5d3", "opacity": 1, "borders": {"color": "#a6e8a6", "strokeWidth": 1.2}}, "encoding": {"yError": {"field": "e"}}},
        {"data": {"name": "sbp_no"}, "mark": {"type": "errorband", "band": false, "opacity": 1, "borders": {"color": "#6a6a6a", "strokeWidth": 1.5}}, "encoding": {"yError": {"field": "e"}}},
        {"data": {"name": "sbp_no"}, "mark": {"type": "line", "strokeWidth": 5, "color": "#000000"}},
        {"data": {"name": "sbp_yes"}, "mark": {"type": "line", "strokeWidth": 4.5, "color": "#0b650b"}}
      ]
    },
    {
      "width": 1168,
      "height": 778,
      "encoding": {
        "x": {"field": "t", "type": "quantitative", "scale": {"domain": [-22.4, 42.4], "nice": false, "zero": false}, "axis": {"values": [-20, -10, 0, 10, 20, 30, 40], "title": "Time from standing (s)"}},
        "y": {"field": "m", "type": "quantitative", "scale": {"domain": [53.1, 101.9], "nice": false, "zero": false}, "axis": {"values": [60, 70, 80, 90, 100], "title": "dBP (mmHg)"}}
      },
      "layer": [
        {"data": {"name": "dbp_no"}, "mark": {"type": "errorband", "color": "#9c9c9c", "opacity": 1}, "encoding": {"yError": {"field": "e"}}},
        {"data": {"name": "dbp_yes"}, "mark": {"type": "errorband", "color": "#d3f5d3", "opacity": 1, "borders": {"color": "#a6e8a6", "strokeWidth": 1.2}}, "encoding": {"yError": {"field": "e"}}},
        {"data": {"name": "dbp_no"}, "mark": {"type": "errorband", "band": false, "opacity": 1, "borders": {"color": "#6a6a6a", "strokeWidth": 1.5}}, "encoding": {"yError": {"field": "e"}}},
        {"data": {"name": "dbp_no"}, "mark": {"type": "line", "strokeWidth": 5, "color": "#000000"}},
        {"data": {"name": "dbp_yes"}, "mark": {"type": "line", "strokeWidth": 4.5, "color": "#0b650b"}}
      ]
    }
  ],
  "config": {
    "font": "Liberation Serif",
    "view": {"stroke": "#4d4d4d", "strokeWidth": 2.5},
    "axis": {
      "domain": false,
      "grid": false,
      "ticks": true,
      "tickSize": 11,
      "tickWidth": 2,
      "tickColor": "#555555",
      "labelFont": "Liberation Sans",
      "labelFontSize": 26,
      "labelColor": "#1a1a1a",
      "labelFlush": false,
      "labelOverlap": false,
      "titleFont": "Liberation Serif",
      "titleFontSize": 40,
      "titleFontWeight": "bold",
      "titleColor": "#000000"
    },
    "axisX": {"labelPadding": 9, "titlePadding": 4},
    "axisY": {"labelAngle": 270, "labelAlign": "center", "labelBaseline": "bottom", "labelPadding": 8, "titlePadding": 5}
  }
}
